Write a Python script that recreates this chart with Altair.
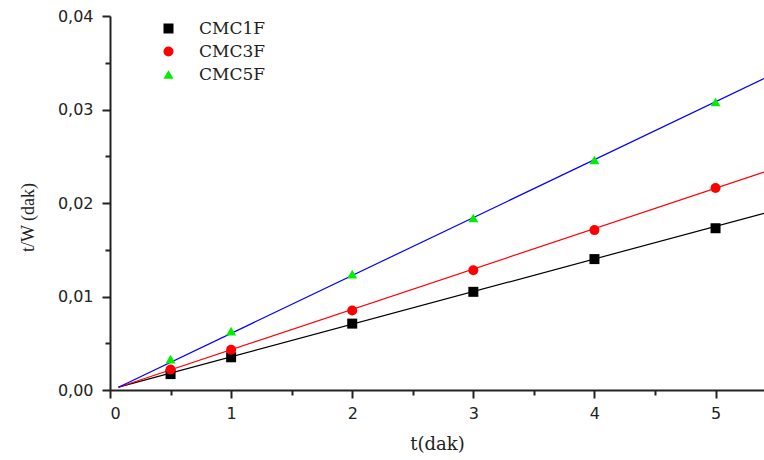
import altair as alt
import pandas as pd

series = ["CMC1F", "CMC3F", "CMC5F"]
t_vals = [0.5, 1, 2, 3, 4, 5]
cmc1f = [0.0017, 0.0035, 0.0071, 0.0105, 0.0140, 0.0173]
cmc3f = [0.0022, 0.0043, 0.0085, 0.0128, 0.0171, 0.0216]
cmc5f = [0.0033, 0.0063, 0.0124, 0.0184, 0.0246, 0.0308]

fit_t = [0.07, 5.4]
fit1 = [0.0003, 0.0189]
fit3 = [0.0003, 0.0233]
fit5 = [0.0003, 0.0333]

point_colors = ["#000000", "#ff0000", "#00ee00"]
line_colors = ["#000000", "#ff0000", "#0000ff"]
shapes = ["square", "circle", "triangle-up"]
sizes = [100, 100, 140]

pts = pd.DataFrame(
    [{"series": s, "t": t, "v": v}
     for s, vals in zip(series, [cmc1f, cmc3f, cmc5f])
     for t, v in zip(t_vals, vals)]
)
fits = pd.DataFrame(
    [{"series": s, "t": t, "v": v}
     for s, vals in zip(series, [fit1, fit3, fit5])
     for t, v in zip(fit_t, vals)]
)

x_axis = alt.Axis(
    values=[0, 0.5, 1, 1.5, 2, 2.5, 3, 3.5, 4, 4.5, 5],
    labelExpr="datum.value % 1 === 0 ? format(datum.value, 'd') : ''",
    tickSize={"condition": {"test": "datum.value % 1 === 0", "value": 8}, "value": 5},
    grid=False, domainColor="#222222", domainWidth=2, tickColor="#222222", tickWidth=2,
    labelFont="DejaVu Sans", labelFontSize=16, labelColor="#222222", labelPadding=7,
    title="t(dak)", titleFont="DejaVu Serif", titleFontSize=18, titleFontWeight="normal",
    titleColor="#222222", titlePadding=14,
)
y_axis = alt.Axis(
    values=[0, 0.005, 0.01, 0.015, 0.02, 0.025, 0.03, 0.035, 0.04],
    labelExpr="abs(datum.value*100 - round(datum.value*100)) < 1e-6 ? replace(format(datum.value, '.2f'), '.', ',') : ''",
    tickSize={"condition": {"test": "abs(datum.value*100 - round(datum.value*100)) < 1e-6", "value": 8}, "value": 5},
    grid=False, domainColor="#222222", domainWidth=2, tickColor="#222222", tickWidth=2,
    labelFont="DejaVu Sans", labelFontSize=16, labelColor="#222222", labelPadding=9,
    title="t/W (dak)", titleFont="Liberation Serif", titleFontSize=18, titleFontWeight="normal",
    titleColor="#222222", titlePadding=20, titleY=201,
)

xs = alt.Scale(domain=[0, 5.4], nice=False, zero=False)
ys = alt.Scale(domain=[0, 0.04], nice=False)

lines = alt.Chart(fits).mark_line(strokeWidth=1.2, clip=True).encode(
    x=alt.X("t:Q", scale=xs, axis=x_axis),
    y=alt.Y("v:Q", scale=ys, axis=y_axis),
    color=alt.Color("series:N", scale=alt.Scale(domain=series, range=line_colors), legend=None),
    detail="series:N",
)

points = alt.Chart(pts).mark_point(filled=True, opacity=1).encode(
    x=alt.X("t:Q", scale=xs),
    y=alt.Y("v:Q", scale=ys),
    fill=alt.Fill("series:N", scale=alt.Scale(domain=series, range=point_colors),
                  legend=alt.Legend(title=None, orient="none", legendX=50, legendY=4,
                                    labelFont="DejaVu Serif", labelFontSize=17,
                                    labelColor="#222222", rowPadding=5,
                                    labelOffset=22, symbolStrokeWidth=0)),
    shape=alt.Shape("series:N", scale=alt.Scale(domain=series, range=shapes)),
    size=alt.Size("series:N", scale=alt.Scale(domain=series, range=sizes)),
)

chart = alt.layer(lines, points).resolve_scale(color="independent").properties(
    width=654, height=374,
    padding={"left": 110, "top": 16, "right": 0, "bottom": 70},
    autosize=alt.AutoSizeParams(type="none"),
).configure_view(stroke=None)

chart.save("out.html", embed_options={"renderer": "svg", "actions": False})
